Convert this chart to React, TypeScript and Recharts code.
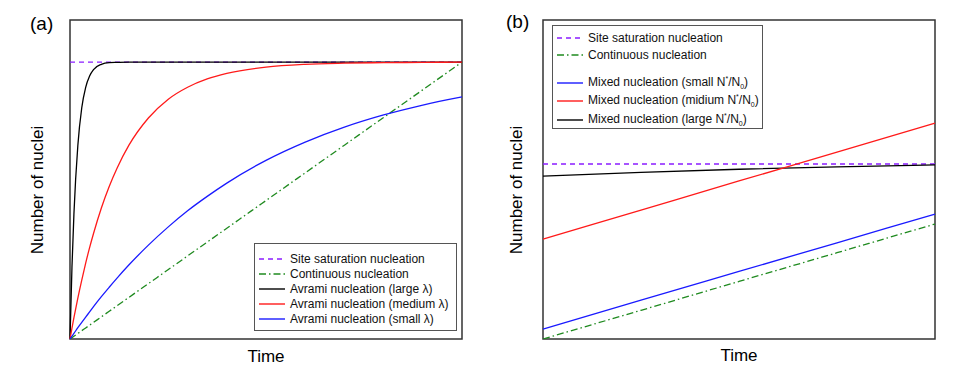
import React from 'react';
import { LineChart, Line, XAxis, YAxis, ReferenceArea } from 'recharts';

// panel (a): Avrami vs site saturation / continuous
const TIME_A = [0, 0.005, 0.01, 0.02, 0.03, 0.04, 0.05, 0.06, 0.08, 0.1, 0.12, 0.15, 0.2, 0.25, 0.3, 0.35, 0.4, 0.5, 0.6, 0.7, 0.8, 0.9, 1.0];
const SITE_A = [1, 1, 1, 1, 1, 1, 1, 1, 1, 1, 1, 1, 1, 1, 1, 1, 1, 1, 1, 1, 1, 1, 1];
const CONT_A = [0, 0.005, 0.01, 0.02, 0.03, 0.04, 0.05, 0.06, 0.08, 0.1, 0.12, 0.15, 0.2, 0.25, 0.3, 0.35, 0.4, 0.5, 0.6, 0.7, 0.8, 0.9, 1.0];
const LARGE_A = [0, 0.259, 0.451, 0.699, 0.835, 0.909, 0.95, 0.973, 0.992, 0.998, 0.999, 1, 1, 1, 1, 1, 1, 1, 1, 1, 1, 1, 1];
const MED_A = [0, 0.039, 0.077, 0.148, 0.213, 0.274, 0.33, 0.381, 0.473, 0.551, 0.617, 0.699, 0.798, 0.865, 0.909, 0.939, 0.959, 0.982, 0.992, 0.996, 0.998, 0.999, 1];
const SMALL_A = [0, 0.01, 0.02, 0.041, 0.06, 0.079, 0.098, 0.117, 0.153, 0.187, 0.22, 0.267, 0.339, 0.404, 0.463, 0.515, 0.563, 0.645, 0.711, 0.765, 0.809, 0.845, 0.874];

// panel (b): mixed nucleation
const TIME_B = [0, 0.25, 0.5, 0.75, 1];
const SITE_B = [1, 1, 1, 1, 1];
const CONT_B = [0, 0.164, 0.329, 0.493, 0.657];
const SMALL_B = [0.057, 0.222, 0.386, 0.55, 0.714];
const MED_B = [0.571, 0.737, 0.903, 1.068, 1.234];
const LARGE_B = [0.931, 0.952, 0.97, 0.984, 0.995];

const Y_MAX_A = 1.152;
const Y_MAX_B = 1.823;

const PURPLE = '#8a1cff';
const GREEN = '#1f8a1f';
const FONT = '"Liberation Sans", Arial, sans-serif';

const STYLES = {
  site: { stroke: PURPLE, dash: '5 4' },
  cont: { stroke: GREEN, dash: '7 3 1.5 3' },
  black: { stroke: '#000000', dash: undefined },
  red: { stroke: '#ff1a1a', dash: undefined },
  blue: { stroke: '#1a1aff', dash: undefined },
};

const rowsA = TIME_A.map((t, i) => ({
  t,
  site: SITE_A[i],
  cont: CONT_A[i],
  black: LARGE_A[i],
  red: MED_A[i],
  blue: SMALL_A[i],
}));

const rowsB = TIME_B.map((t, i) => ({
  t,
  site: SITE_B[i],
  cont: CONT_B[i],
  blue: SMALL_B[i],
  red: MED_B[i],
  black: LARGE_B[i],
}));

const LEGEND_A = [
  { key: 'site', label: 'Site saturation nucleation', y: 15 },
  { key: 'cont', label: 'Continuous nucleation', y: 30 },
  { key: 'black', label: 'Avrami nucleation (large \u03bb)', y: 45 },
  { key: 'red', label: 'Avrami nucleation (medium \u03bb)', y: 60 },
  { key: 'blue', label: 'Avrami nucleation (small \u03bb)', y: 75 },
];

const LEGEND_B = [
  { key: 'site', label: 'Site saturation nucleation', y: 12 },
  { key: 'cont', label: 'Continuous nucleation', y: 29 },
  { key: 'blue', label: 'Mixed nucleation (small ', y: 57, ratio: true },
  { key: 'red', label: 'Mixed nucleation (midium ', y: 75, ratio: true },
  { key: 'black', label: 'Mixed nucleation (large ', y: 94, ratio: true },
];

function LegendBox({ items, left, top, width, height }: any) {
  return (
    <div
      style={{
        position: 'absolute', left, top, width, height,
        border: '1px solid #555', background: '#fff', fontFamily: FONT, fontSize: 12, color: '#111',
      }}
    >
      {items.map((it: any) => {
        const s = (STYLES as any)[it.key];
        return (
          <div key={it.key} style={{ position: 'absolute', left: 4, top: it.y - 8, height: 16, lineHeight: '16px', whiteSpace: 'nowrap', display: 'flex', alignItems: 'center' }}>
            <svg width={26} height={16} style={{ marginRight: 5 }}>
              <line x1={0} x2={26} y1={8} y2={8} stroke={s.stroke} strokeWidth={1.4} strokeDasharray={s.dash} />
            </svg>
            <span>
              {it.label}
              {it.ratio && (
                <>
                  N<sup style={{ fontSize: 7, verticalAlign: 5 }}>*</sup>/N<sub style={{ fontSize: 7, verticalAlign: -3 }}>0</sub>)
                </>
              )}
            </span>
          </div>
        );
      })}
    </div>
  );
}

function Panel({ data, yMax, left }: any) {
  return (
    <div style={{ position: 'absolute', left, top: 0 }}>
      <LineChart width={477} height={369} data={data} margin={{ top: 20, right: 15, bottom: 30, left: 70 }}>
        <XAxis dataKey="t" type="number" domain={[0, 1]} hide />
        <YAxis type="number" domain={[0, yMax]} hide allowDataOverflow />
        <ReferenceArea x1={0} x2={1} y1={0} y2={yMax} fill="none" stroke="#333" strokeWidth={1.5} />
        {Object.keys(STYLES).map((k) => (
          <Line
            key={k}
            dataKey={k}
            type="monotone"
            dot={false}
            stroke={(STYLES as any)[k].stroke}
            strokeDasharray={(STYLES as any)[k].dash}
            strokeWidth={1.3}
            isAnimationActive={false}
          />
        ))}
      </LineChart>
    </div>
  );
}

const textStyle: React.CSSProperties = { position: 'absolute', fontFamily: FONT, color: '#000', whiteSpace: 'nowrap' };

export default function App() {
  return (
    <div style={{ position: 'absolute', left: 0, top: 0, width: 977, height: 369, background: '#fff', overflow: 'hidden' }}>
      <Panel data={rowsA} yMax={Y_MAX_A} left={0} />
      <Panel data={rowsB} yMax={Y_MAX_B} left={473} />

      <div style={{ ...textStyle, left: 30, top: 13, fontSize: 19 }}>(a)</div>
      <div style={{ ...textStyle, left: 506, top: 11, fontSize: 19 }}>(b)</div>

      <div style={{ ...textStyle, left: 266, top: 347, fontSize: 17, transform: 'translateX(-50%)' }}>Time</div>
      <div style={{ ...textStyle, left: 739, top: 346, fontSize: 17, transform: 'translateX(-50%)' }}>Time</div>

      <div style={{ ...textStyle, left: 38, top: 190, fontSize: 17, transform: 'translate(-50%, -50%) rotate(-90deg)' }}>Number of nuclei</div>
      <div style={{ ...textStyle, left: 517, top: 190, fontSize: 17, transform: 'translate(-50%, -50%) rotate(-90deg)' }}>Number of nuclei</div>

      <LegendBox items={LEGEND_A} left={254} top={243} width={201} height={86} />
      <LegendBox items={LEGEND_B} left={552} top={25} width={209} height={102} />
    </div>
  );
}
